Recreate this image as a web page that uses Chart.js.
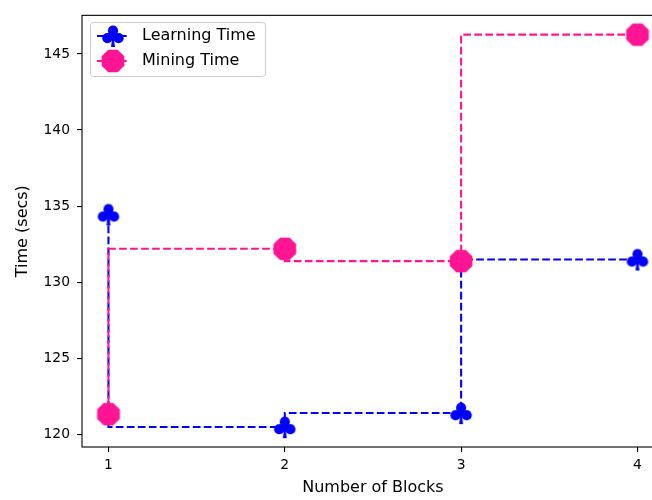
<!DOCTYPE html>
<html>
<head>
<meta charset="utf-8">
<script src="https://cdn.jsdelivr.net/npm/chart.js@4/dist/chart.umd.min.js"></script>
<style>
  html, body { margin: 0; padding: 0; overflow: hidden; background: #fff; }
  #wrap { width: 700px; height: 500px; }
</style>
</head>
<body>
<div id="wrap"><canvas id="c" width="700" height="500"></canvas></div>
<script>
// ---- data ----
const blocks = [1, 2, 3, 4];
const learningTime = [134.45, 120.47, 121.39, 131.49];
const miningTime = [121.32, 132.19, 131.38, 146.27];
const xTicks = [1, 2, 3, 4];
const yTicks = [120, 125, 130, 135, 140, 145];
const seriesLabels = ['Learning Time', 'Mining Time'];

const BLUE = '#0000ff';
const PINK = '#ff1493';
const TICK_FONT = { family: '"DejaVu Sans", sans-serif', size: 13.9 };
const LABEL_FONT = { family: '"DejaVu Sans", sans-serif', size: 16 };

// ---- marker images ----
function clubMarker(color) {
  const c = document.createElement('canvas');
  c.width = 24; c.height = 24;
  const g = c.getContext('2d');
  g.translate(12, 12);
  g.fillStyle = color;
  g.beginPath(); g.arc(0, -5.3, 5.1, 0, Math.PI * 2); g.fill();
  g.beginPath(); g.arc(-5.6, 2.2, 5.1, 0, Math.PI * 2); g.fill();
  g.beginPath(); g.arc(5.6, 2.2, 5.1, 0, Math.PI * 2); g.fill();
  g.beginPath(); g.moveTo(0, -4); g.lineTo(5, 1); g.lineTo(0, 4); g.lineTo(-5, 1); g.closePath(); g.fill();
  g.beginPath(); g.moveTo(-0.9, 3); g.lineTo(0.9, 3); g.lineTo(2, 11); g.lineTo(-2, 11); g.closePath(); g.fill();
  return c;
}
function octagonMarker(color) {
  const c = document.createElement('canvas');
  c.width = 26; c.height = 26;
  const g = c.getContext('2d');
  g.translate(13, 13);
  g.fillStyle = color;
  g.beginPath();
  const R = 12.3;
  for (let i = 0; i < 8; i++) {
    const a = Math.PI / 8 + i * Math.PI / 4;
    const px = R * Math.cos(a), py = R * Math.sin(a);
    if (i === 0) g.moveTo(px, py); else g.lineTo(px, py);
  }
  g.closePath(); g.fill();
  return c;
}
const clubImg = clubMarker(BLUE);
const octImg = octagonMarker(PINK);

// ---- plugins ----
const framePlugin = {
  id: 'frame',
  afterDatasetsDraw(chart) {
    const { ctx, chartArea: a } = chart;
    ctx.save();
    ctx.strokeStyle = '#000';
    ctx.lineWidth = 1.1;
    ctx.strokeRect(a.left, a.top, a.right - a.left, a.bottom - a.top);
    ctx.restore();
  }
};
const legendPlugin = {
  id: 'mplLegend',
  afterDraw(chart) {
    const ctx = chart.ctx;
    ctx.save();
    ctx.beginPath();
    ctx.roundRect(90.5, 22.5, 175, 54, 3);
    ctx.fillStyle = 'rgba(255,255,255,0.8)';
    ctx.fill();
    ctx.strokeStyle = '#cccccc';
    ctx.lineWidth = 1;
    ctx.stroke();
    chart.data.datasets.forEach((ds, i) => {
      const cy = 36 + i * 25;
      ctx.setLineDash([7.7, 3.3]);
      ctx.strokeStyle = ds.borderColor;
      ctx.lineWidth = 2.08;
      ctx.beginPath(); ctx.moveTo(97, cy); ctx.lineTo(129, cy); ctx.stroke();
      ctx.setLineDash([]);
      const img = ds.pointStyle;
      ctx.drawImage(img, 113 - img.width / 2, cy - img.height / 2);
      ctx.fillStyle = '#000';
      ctx.font = '16px "DejaVu Sans", sans-serif';
      ctx.textBaseline = 'middle';
      ctx.textAlign = 'left';
      ctx.fillText(ds.label, 142, cy);
    });
    ctx.restore();
  }
};

const axisGrid = { display: true, drawOnChartArea: false, drawTicks: true, tickLength: 5, color: '#000', lineWidth: 1.1 };

new Chart(document.getElementById('c'), {
  type: 'line',
  data: {
    datasets: [
      {
        label: seriesLabels[0],
        data: blocks.map((x, i) => ({ x, y: learningTime[i] })),
        borderColor: BLUE,
        backgroundColor: BLUE,
        borderWidth: 2.08,
        borderDash: [7.7, 3.3],
        stepped: 'after',
        pointStyle: clubImg,
        pointRadius: 11,
        pointHoverRadius: 11,
        fill: false,
        order: 1,
        clip: false
      },
      {
        label: seriesLabels[1],
        data: blocks.map((x, i) => ({ x, y: miningTime[i] })),
        borderColor: PINK,
        backgroundColor: PINK,
        borderWidth: 2.08,
        borderDash: [7.7, 3.3],
        stepped: 'after',
        pointStyle: octImg,
        pointRadius: 12,
        pointHoverRadius: 12,
        fill: false,
        order: 0,
        clip: false
      }
    ]
  },
  options: {
    responsive: false,
    animation: false,
    events: [],
    layout: { autoPadding: false, padding: { left: 0, top: 14, right: 36.1, bottom: 0 } },
    plugins: { legend: { display: false }, tooltip: { enabled: false } },
    scales: {
      x: {
        type: 'linear',
        min: 0.85,
        max: 4.15,
        afterBuildTicks: s => { s.ticks = xTicks.map(v => ({ value: v })); },
        afterFit: s => { s.height = 53; },
        grid: axisGrid,
        border: { display: false },
        ticks: { color: '#000', font: TICK_FONT, padding: 5, maxRotation: 0, autoSkip: false },
        title: { display: true, text: 'Number of Blocks', color: '#000', font: LABEL_FONT, padding: { top: 0, bottom: 2.5 } }
      },
      y: {
        type: 'linear',
        min: 119.16,
        max: 147.54,
        afterBuildTicks: s => { s.ticks = yTicks.map(v => ({ value: v })); },
        afterFit: s => { s.width = 82; },
        grid: axisGrid,
        border: { display: false },
        ticks: { color: '#000', font: TICK_FONT, padding: 7, autoSkip: false },
        title: { display: true, text: 'Time (secs)', color: '#000', font: LABEL_FONT, padding: { top: 13.4, bottom: 0 } }
      }
    }
  },
  plugins: [framePlugin, legendPlugin]
});
</script>
</body>
</html>
